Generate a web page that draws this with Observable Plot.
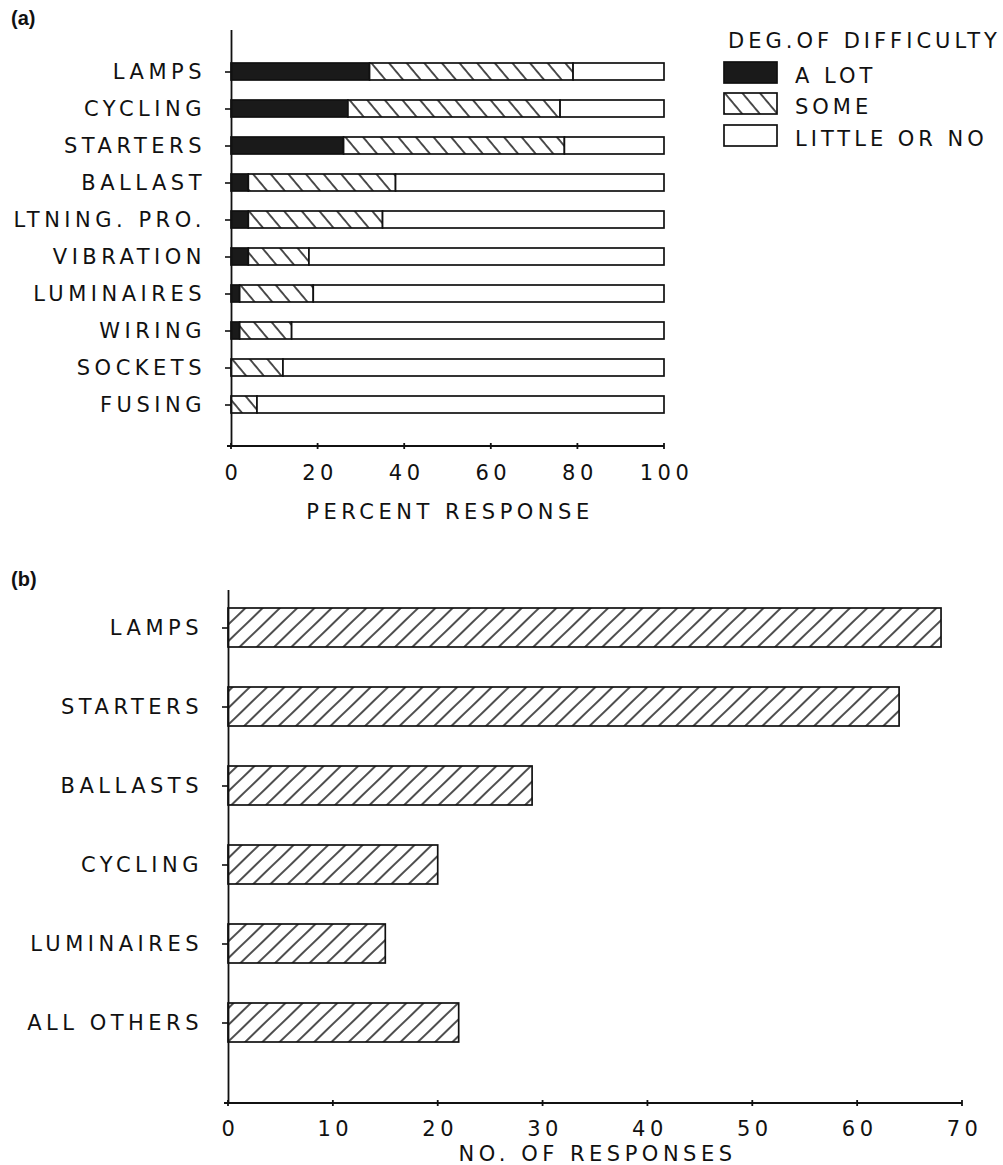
<!DOCTYPE html>
<html>
<head>
<meta charset="utf-8">
<script src="https://cdn.jsdelivr.net/npm/d3@7"></script>
<script src="https://cdn.jsdelivr.net/npm/@observablehq/plot@0.6"></script>
<style>
  body { margin: 0; background: #fff; width: 1003px; height: 1165px; position: relative; overflow: hidden; }
  .panel { position: absolute; left: 0; }
  .tag { position: absolute; left: 11px; font: bold 20px "Liberation Sans", Arial, sans-serif; color: #111; line-height: 1; }
  #legend { position: absolute; left: 715px; top: 20px; }
</style>
</head>
<body>
<div class="tag" style="top:8px">(a)</div>
<div id="panelA" class="panel" style="top:0"></div>
<svg id="legend" width="288" height="140"></svg>
<div class="tag" style="top:569px">(b)</div>
<div id="panelB" class="panel" style="top:560px"></div>
<script>
// (a) Degree of difficulty by component, percent of responses
const components = ["LAMPS", "CYCLING", "STARTERS", "BALLAST", "LTNING. PRO.", "VIBRATION", "LUMINAIRES", "WIRING", "SOCKETS", "FUSING"];
const degrees = ["A LOT", "SOME", "LITTLE OR NO"];
const aLot   = [32, 27, 26, 4, 4, 4, 2, 2, 0, 0];
const some   = [47, 49, 51, 34, 31, 14, 17, 12, 12, 6];
const little = [21, 24, 23, 62, 65, 82, 81, 86, 88, 94];
const pctTicks = [0, 20, 40, 60, 80, 100];

// (b) Number of responses by component
const itemsB = ["LAMPS", "STARTERS", "BALLASTS", "CYCLING", "LUMINAIRES", "ALL OTHERS"];
const counts = [68, 64, 29, 20, 15, 22];
const countTicks = [0, 10, 20, 30, 40, 50, 60, 70];

const ink = "#111";
const textStyle = {
  fontFamily: "'DejaVu Sans', sans-serif",
  fontSize: "21px",
  letterSpacing: "4.5px",
  wordSpacing: "0px",
  color: ink,
  background: "transparent"
};

// Hatch fills shared by both panels and the legend
const defs = d3.select("body").append("svg")
  .attr("width", 0).attr("height", 0)
  .style("position", "absolute")
  .append("defs");
function hatch(id, spacing, angle) {
  const p = defs.append("pattern")
    .attr("id", id)
    .attr("patternUnits", "userSpaceOnUse")
    .attr("width", spacing).attr("height", 40)
    .attr("patternTransform", `rotate(${angle})`);
  p.append("rect").attr("width", spacing).attr("height", 40).attr("fill", "#fff");
  p.append("line").attr("x1", 1).attr("x2", 1).attr("y1", 0).attr("y2", 40)
    .attr("stroke", "#222").attr("stroke-width", 1.6);
}
hatch("hatch-some", 13.5, -40);
hatch("hatch-count", 12.0, 46);

const fills = ["#1a1a1a", "url(#hatch-some)", "#fff"];

// Baseline of the value axis with small crossing ticks, placed through the x scale
function valueAxisLine(ticks) {
  return (index, scales, values, dims) => {
    const y = dims.height - dims.marginBottom;
    const g = d3.create("svg:g").attr("stroke", ink).attr("stroke-width", 1.8);
    g.append("line")
      .attr("x1", scales.x(ticks[0]) - 4).attr("x2", scales.x(ticks[ticks.length - 1]))
      .attr("y1", y).attr("y2", y);
    for (const t of ticks) {
      g.append("line").attr("x1", scales.x(t)).attr("x2", scales.x(t))
        .attr("y1", y - 3).attr("y2", y + 3);
    }
    return g.node();
  };
}

const rowsA = components.flatMap((c, i) => [
  {component: c, degree: degrees[0], value: aLot[i]},
  {component: c, degree: degrees[1], value: some[i]},
  {component: c, degree: degrees[2], value: little[i]}
]);

const plotA = Plot.plot({
  width: 1003,
  height: 540,
  marginLeft: 231,
  marginRight: 339,
  marginTop: 30,
  marginBottom: 94,
  style: textStyle,
  x: {domain: [0, 100], label: null},
  y: {domain: components, paddingInner: 0.55, paddingOuter: 0.77, label: null},
  color: {domain: degrees, range: fills},
  marks: [
    Plot.barX(rowsA.filter(d => d.value > 0), {
      x: "value", y: "component", fill: "degree",
      stroke: ink, strokeWidth: 1.7
    }),
    Plot.ruleX([0], {stroke: ink, strokeWidth: 1.8}),
    valueAxisLine(pctTicks),
    Plot.axisX(pctTicks, {tickSize: 0, tickPadding: 19, dx: 2, label: null}),
    Plot.axisY({tickSize: 6, tickPadding: 19.5, label: null, strokeWidth: 1.6}),
    Plot.text(["PERCENT RESPONSE"], {text: d => d, frameAnchor: "bottom", lineAnchor: "middle", dy: 66, dx: 2})
  ]
});
document.getElementById("panelA").append(plotA);

// Legend for the difficulty categories
const legend = d3.select("#legend")
  .style("font-family", textStyle.fontFamily)
  .style("font-size", textStyle.fontSize)
  .style("letter-spacing", "4px")
  .style("word-spacing", "0px")
  .attr("fill", ink);
legend.append("text").attr("x", 13).attr("y", 28).text("DEG.OF DIFFICULTY");
const rowTop = [42, 73, 105];
degrees.forEach((d, i) => {
  legend.append("rect")
    .attr("x", 9).attr("y", rowTop[i]).attr("width", 53).attr("height", 21)
    .attr("fill", fills[i]).attr("stroke", ink).attr("stroke-width", 1.7);
  legend.append("text").attr("x", 80).attr("y", rowTop[i] + 21).text(d);
});

const rowsB = itemsB.map((item, i) => ({item, count: counts[i]}));

const plotB = Plot.plot({
  width: 1003,
  height: 605,
  marginLeft: 228,
  marginRight: 41,
  marginTop: 30,
  marginBottom: 62,
  style: textStyle,
  x: {domain: [0, 70], label: null},
  y: {domain: itemsB, paddingInner: 0.51, paddingOuter: 0.21, insetBottom: 43, label: null},
  marks: [
    Plot.barX(rowsB, {
      x: "count", y: "item", fill: "url(#hatch-count)",
      stroke: ink, strokeWidth: 1.7
    }),
    Plot.ruleX([0], {stroke: ink, strokeWidth: 1.8}),
    valueAxisLine(countTicks),
    Plot.axisX(countTicks, {tickSize: 0, tickPadding: 18, dx: 2, label: null}),
    Plot.axisY({tickSize: 6, tickPadding: 19.5, label: null, strokeWidth: 1.6}),
    Plot.text(["NO. OF RESPONSES"], {text: d => d, frameAnchor: "bottom", lineAnchor: "middle", dy: 51, dx: 2})
  ]
});
document.getElementById("panelB").append(plotB);
</script>
</body>
</html>
